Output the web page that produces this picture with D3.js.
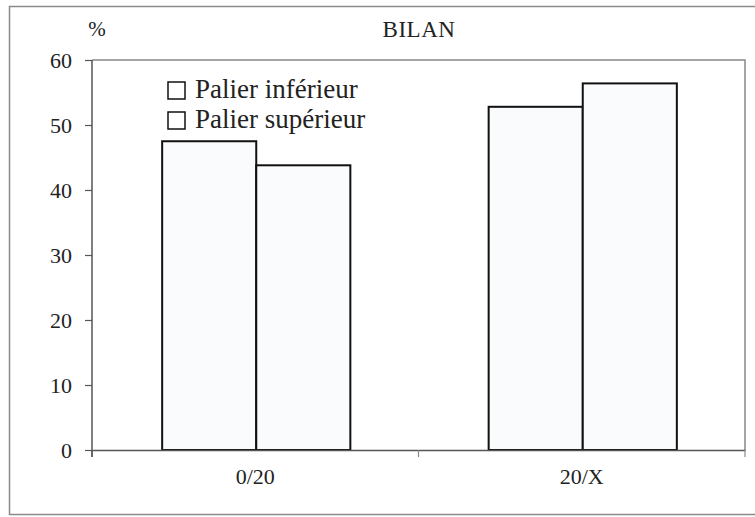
<!DOCTYPE html>
<html>
<head>
<meta charset="utf-8">
<script src="https://cdn.jsdelivr.net/npm/d3@7"></script>
<style>
  body { margin: 0; background: #fff; }
  svg text { font-family: "Liberation Serif", Tinos, "Times New Roman", "DejaVu Serif", serif !important; fill: #222; }
</style>
</head>
<body>
<div id="chart"></div>
<script>
// données
const categories = ["0/20", "20/X"];
const series = ["Palier inférieur", "Palier supérieur"];
const paliers = {
    "Palier inférieur": [47.5, 52.8],
    "Palier supérieur": [43.8, 56.4]
};
const yTicks = [0, 10, 20, 30, 40, 50, 60];

const width = 755, height = 517;
const margin = { left: 92, right: 10, top: 60, bottom: 67 };

const svg = d3.select("#chart").append("svg")
    .attr("width", width)
    .attr("height", height);

// cadre extérieur
svg.append("rect")
    .attr("x", 9.5).attr("y", 6.5)
    .attr("width", 760).attr("height", 508)
    .attr("fill", "#fff")
    .attr("stroke", "#8a8a8a")
    .attr("stroke-width", 1.5);

const x = d3.scaleBand()
    .domain(categories)
    .range([margin.left, width - margin.right]);

const xSub = d3.scaleBand()
    .domain(series)
    .range([0, x.bandwidth()])
    .paddingOuter(0.735);

const y = d3.scaleLinear()
    .domain([0, 60])
    .range([height - margin.bottom, margin.top]);

// bord haut et droit de la zone de tracé
svg.append("path")
    .attr("d", `M${margin.left},${margin.top}H${width - margin.right}V${y(0)}`)
    .attr("fill", "none")
    .attr("stroke", "#888")
    .attr("stroke-width", 1.5);

// barres
const groups = svg.append("g").selectAll("g")
    .data(categories)
    .join("g")
    .attr("transform", d => `translate(${x(d) + 1},0)`);

groups.selectAll("rect")
    .data((d, i) => series.map(s => ({ s, v: paliers[s][i] })))
    .join("rect")
    .attr("x", d => xSub(d.s))
    .attr("y", d => y(d.v))
    .attr("width", xSub.bandwidth())
    .attr("height", d => y(0) - y(d.v))
    .attr("fill", "#fafbfd")
    .attr("stroke", "#111")
    .attr("stroke-width", 2);

// axe Y
const yAxis = svg.append("g")
    .attr("transform", `translate(${margin.left},0)`)
    .call(d3.axisLeft(y).tickValues(yTicks).tickSize(7).tickPadding(13).tickSizeOuter(0));
yAxis.select(".domain").attr("stroke", "#555").attr("stroke-width", 1.5)
    .attr("d", `M0,${margin.top}V${y(0) + 7}`);
yAxis.selectAll(".tick line").attr("stroke", "#555").attr("stroke-width", 1.2);
yAxis.selectAll(".tick text")
    .style("font-size", "22px")
    .attr("fill", "#222");

// axe X
const xAxis = svg.append("g")
    .attr("transform", `translate(0,${y(0)})`)
    .call(d3.axisBottom(x).tickSize(0).tickPadding(18).tickSizeOuter(0));
xAxis.select(".domain").attr("stroke", "#555").attr("stroke-width", 1.5);
xAxis.selectAll(".tick text")
    .style("font-size", "22px")
    .attr("fill", "#222");
// graduations entre les catégories
const xBounds = categories.map(c => x(c)).concat([x.range()[1]]);
xAxis.selectAll("line.sep")
    .data(xBounds)
    .join("line")
    .attr("class", "sep")
    .attr("x1", d => d).attr("x2", d => d)
    .attr("y1", 0).attr("y2", 7)
    .attr("stroke", d => d === margin.left ? "#555" : "#888")
    .attr("stroke-width", 1.2);

// titre et unité
svg.append("text")
    .attr("x", 419).attr("y", 37)
    .attr("text-anchor", "middle")
    .style("font-size", "23px")
    .attr("letter-spacing", "0.5px")
    .text("BILAN");

svg.append("text")
    .attr("x", 97).attr("y", 36)
    .attr("text-anchor", "middle")
    .style("font-size", "21px")
    .text("%");

// légende
const legend = svg.append("g").attr("transform", "translate(168,82)");
const items = legend.selectAll("g")
    .data(series)
    .join("g")
    .attr("transform", (d, i) => `translate(0,${i * 30})`);
items.append("rect")
    .attr("width", 17).attr("height", 17)
    .attr("fill", "#fff")
    .attr("stroke", "#111")
    .attr("stroke-width", 1.5);
items.append("text")
    .attr("x", 27).attr("y", 16)
    .style("font-size", "27px")
    .text(d => d);
</script>
</body>
</html>
